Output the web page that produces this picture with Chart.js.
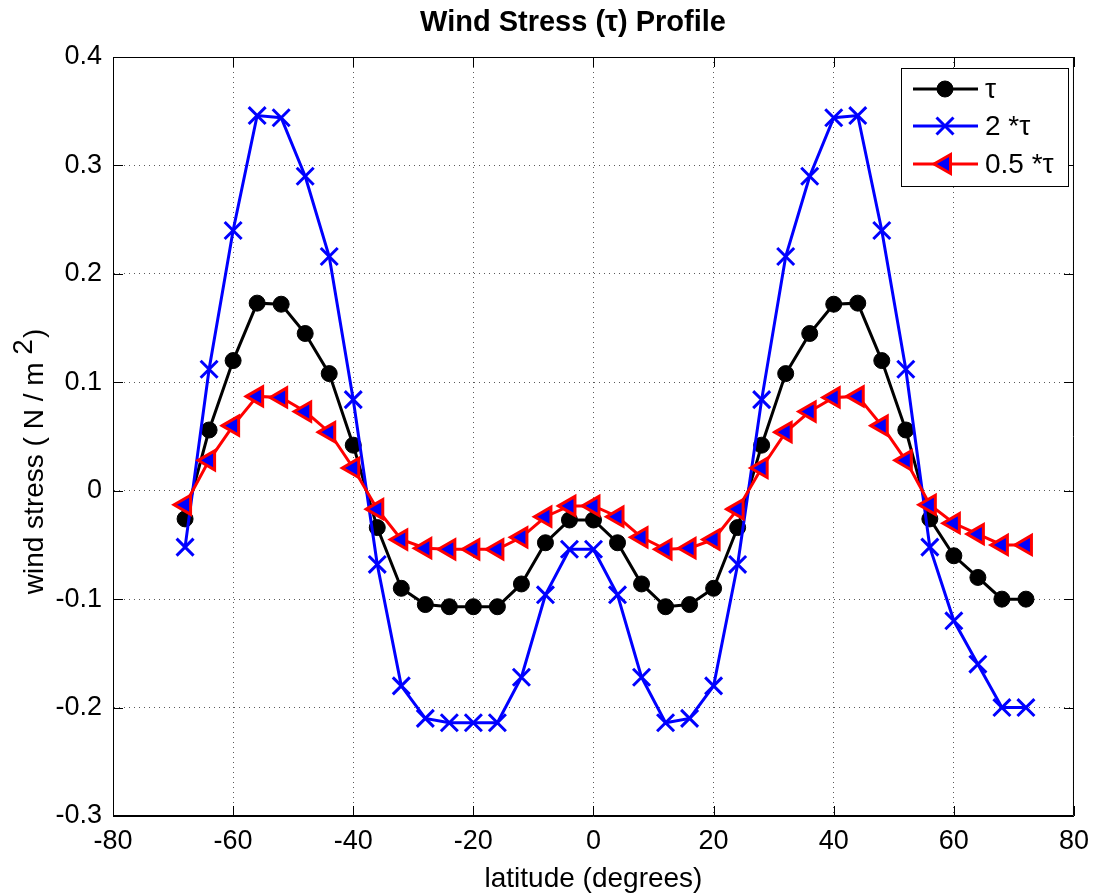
<!DOCTYPE html>
<html>
<head>
<meta charset="utf-8">
<script src="https://cdn.jsdelivr.net/npm/chart.js@4/dist/chart.umd.min.js"></script>
<style>
  html, body { margin: 0; padding: 0; background: #fff; }
  #wrap { width: 1098px; height: 896px; }
</style>
</head>
<body>
<div id="wrap"><canvas id="c" width="1098" height="896"></canvas></div>
<script>
const latitude = [-68, -64, -60, -56, -52, -48, -44, -40, -36, -32, -28, -24, -20, -16, -12, -8, -4, 0,
                  4, 8, 12, 16, 20, 24, 28, 32, 36, 40, 44, 48, 52, 56, 60, 64, 68, 72];
const tau = [-0.026, 0.056, 0.120, 0.173, 0.172, 0.145, 0.108, 0.042, -0.034, -0.090, -0.105, -0.107,
             -0.107, -0.107, -0.086, -0.048, -0.027, -0.027, -0.048, -0.086, -0.107, -0.105, -0.090, -0.034,
             0.042, 0.108, 0.145, 0.172, 0.173, 0.120, 0.056, -0.026, -0.060, -0.080, -0.100, -0.100];
const tauDouble = [-0.052, 0.112, 0.240, 0.346, 0.344, 0.290, 0.216, 0.084, -0.068, -0.180, -0.210, -0.214,
                   -0.214, -0.214, -0.172, -0.096, -0.054, -0.054, -0.096, -0.172, -0.214, -0.210, -0.180, -0.068,
                   0.084, 0.216, 0.290, 0.344, 0.346, 0.240, 0.112, -0.052, -0.120, -0.160, -0.200, -0.200];
const tauHalf = [-0.013, 0.028, 0.060, 0.087, 0.086, 0.073, 0.054, 0.021, -0.017, -0.045, -0.053, -0.054,
                 -0.054, -0.054, -0.043, -0.024, -0.014, -0.014, -0.024, -0.043, -0.054, -0.053, -0.045, -0.017,
                 0.021, 0.054, 0.073, 0.086, 0.087, 0.060, 0.028, -0.013, -0.030, -0.040, -0.050, -0.050];
const seriesNames = ['τ', '2 *τ', '0.5 *τ'];

const FONT = '"Liberation Sans", Arial, Helvetica, sans-serif';

function pts(ys) {
  return latitude.map((x, i) => ({ x: x, y: ys[i] }));
}

const styles = [
  { color: '#000000', pointStyle: 'circle', radius: 8, fill: '#000000', rotation: 0, bw: 1 },
  { color: '#0000ff', pointStyle: 'crossRot', radius: 12, fill: '#0000ff', rotation: 0, bw: 3 },
  { color: '#ff0000', pointStyle: 'triangle', radius: 11, fill: '#0000ff', rotation: -90, bw: 3 }
];

const frame = {
  id: 'frame',
  beforeDatasetsDraw(chart) {
    const { ctx, chartArea: a, scales } = chart;
    ctx.save();
    ctx.strokeStyle = '#000';
    ctx.lineWidth = 1;
    ctx.beginPath();
    ctx.rect(a.left + 0.5, a.top + 0.5, a.right - a.left - 1, a.bottom - a.top - 1);
    ctx.stroke();
    ctx.beginPath();
    scales.x.ticks.forEach(t => {
      const px = Math.round(scales.x.getPixelForValue(t.value)) + 0.5;
      ctx.moveTo(px, a.bottom); ctx.lineTo(px, a.bottom - 10);
      ctx.moveTo(px, a.top); ctx.lineTo(px, a.top + 10);
    });
    scales.y.ticks.forEach(t => {
      const py = Math.round(scales.y.getPixelForValue(t.value)) + 0.5;
      ctx.moveTo(a.left, py); ctx.lineTo(a.left + 10, py);
      ctx.moveTo(a.right, py); ctx.lineTo(a.right - 10, py);
    });
    ctx.stroke();
    ctx.restore();
  },
  afterDatasetsDraw(chart) {
    const { ctx } = chart;
    ctx.save();
    // title
    ctx.fillStyle = '#000';
    ctx.font = 'bold 29px ' + FONT;
    ctx.textAlign = 'center';
    ctx.textBaseline = 'middle';
    ctx.fillText('Wind Stress (τ) Profile', 573, 23);

    // y axis title with superscript
    ctx.font = '28px ' + FONT;
    ctx.textAlign = 'left';
    ctx.textBaseline = 'alphabetic';
    const partA = 'wind stress ( N / m ', partB = '2', partC = ')';
    const wA = ctx.measureText(partA).width, wB = ctx.measureText(partB).width, wC = ctx.measureText(partC).width;
    const total = wA + wB + wC;
    ctx.translate(43, 462);
    ctx.rotate(-Math.PI / 2);
    let x0 = -total / 2;
    ctx.fillText(partA, x0, 0);
    ctx.fillText(partB, x0 + wA, -11);
    ctx.fillText(partC, x0 + wA + wB + 1, 0);
    ctx.setTransform(1, 0, 0, 1, 0, 0);

    // legend box
    const bx = 901, by = 68, bw = 167, bh = 118;
    ctx.fillStyle = '#fff';
    ctx.fillRect(bx, by, bw, bh);
    ctx.strokeStyle = '#000';
    ctx.lineWidth = 1;
    ctx.strokeRect(bx + 0.5, by + 0.5, bw, bh);
    const rows = [89, 126, 164];
    seriesNames.forEach((name, i) => {
      const s = styles[i];
      const y = rows[i];
      ctx.strokeStyle = s.color;
      ctx.lineWidth = 3;
      ctx.beginPath();
      ctx.moveTo(913, y); ctx.lineTo(978, y);
      ctx.stroke();
      ctx.fillStyle = s.fill;
      ctx.strokeStyle = s.color;
      ctx.lineWidth = s.bw;
      Chart.helpers.drawPoint(ctx, { pointStyle: s.pointStyle, rotation: s.rotation, radius: s.radius, borderWidth: s.bw }, 945, y);
      ctx.fillStyle = '#000';
      ctx.font = '28px ' + FONT;
      ctx.textAlign = 'left';
      ctx.textBaseline = 'middle';
      ctx.fillText(name, 985, y + 1);
    });
    ctx.restore();
  }
};

const data = {
  datasets: [tau, tauDouble, tauHalf].map((ys, i) => ({
    label: seriesNames[i],
    data: pts(ys),
    order: 3 - i,
    borderColor: styles[i].color,
    borderWidth: 3,
    backgroundColor: styles[i].fill,
    pointStyle: styles[i].pointStyle,
    pointRadius: styles[i].radius,
    pointRotation: styles[i].rotation,
    pointBackgroundColor: styles[i].fill,
    pointBorderColor: styles[i].color,
    pointBorderWidth: styles[i].bw,
    tension: 0,
    fill: false
  }))
};

new Chart(document.getElementById('c'), {
  type: 'line',
  data: data,
  options: {
    responsive: false,
    animation: false,
    events: [],
    layout: { padding: { top: 57, right: 22, left: 0, bottom: 0 } },
    plugins: { legend: { display: false }, title: { display: false }, tooltip: { enabled: false } },
    scales: {
      x: {
        type: 'linear',
        min: -80, max: 80,
        ticks: { stepSize: 20, color: '#000', font: { family: FONT, size: 27 }, padding: 9, maxRotation: 0 },
        grid: { color: 'rgba(0,0,0,0.65)', lineWidth: 1, drawTicks: false },
        border: { display: true, color: '#000', dash: [1, 4] },
        title: { display: true, text: 'latitude (degrees)', color: '#000', font: { family: FONT, size: 28 }, padding: { top: 0, bottom: 0 } },
        afterFit(s) { s.height = 80; }
      },
      y: {
        min: -0.3, max: 0.4,
        ticks: { stepSize: 0.1, color: '#000', font: { family: FONT, size: 27 }, padding: 11,
          callback: v => (Math.abs(v) < 1e-9 ? '0' : String(Math.round(v * 10) / 10)) },
        grid: { color: 'rgba(0,0,0,0.65)', lineWidth: 1, drawTicks: false },
        border: { display: true, color: '#000', dash: [1, 4] },
        afterFit(s) { s.width = 113; }
      }
    }
  },
  plugins: [frame]
});
</script>
</body>
</html>
